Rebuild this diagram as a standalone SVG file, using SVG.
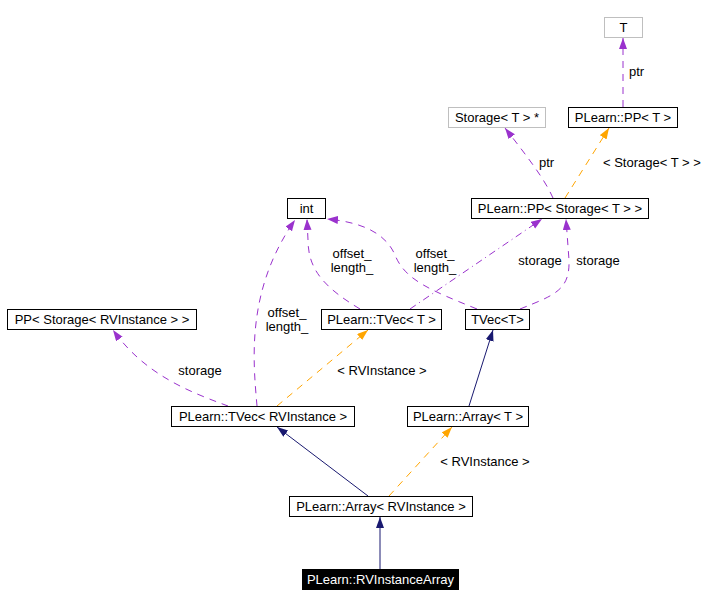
<svg xmlns="http://www.w3.org/2000/svg" width="712" height="606" viewBox="0 0 712 606">
<style>
text{font-family:"Liberation Sans",Arial,sans-serif;font-size:13px;fill:#000}
.n{text-anchor:middle}
.box{fill:#fff;stroke:#000;stroke-width:1}
.gbox{fill:#fff;stroke:#bfbfbf;stroke-width:1}
.e{fill:none;stroke-width:1}
.p{stroke:#9a32cd;stroke-dasharray:7,6}
.pd{stroke:#9a32cd;stroke-dasharray:7,4,1,4}
.o{stroke:#ffa500;stroke-dasharray:7,6}
.b{stroke:#191970}
</style>
<defs>
<marker id="ap" markerUnits="userSpaceOnUse" markerWidth="12" markerHeight="10" refX="11" refY="4" orient="auto"><path d="M0,0 L11,4 L0,8 z" fill="#9a32cd"/></marker>
<marker id="ao" markerUnits="userSpaceOnUse" markerWidth="12" markerHeight="10" refX="11" refY="4" orient="auto"><path d="M0,0 L11,4 L0,8 z" fill="#ffa500"/></marker>
<marker id="ab" markerUnits="userSpaceOnUse" markerWidth="12" markerHeight="10" refX="11" refY="4" orient="auto"><path d="M0,0 L11,4 L0,8 z" fill="#191970"/></marker>
</defs>
<rect width="712" height="606" fill="#fff"/>
<g id="edges">
<path class="e p" d="M623,107 L623,38" marker-end="url(#ap)"/>
<text x="629" y="76">ptr</text>
<path class="e p" d="M553,198 C545,180 530,160 505,128" marker-end="url(#ap)"/>
<text x="539" y="167">ptr</text>
<path class="e o" d="M565,198 L609,128" marker-end="url(#ao)"/>
<text x="603" y="167">&lt; Storage&lt; T &gt; &gt;</text>
<path class="e p" d="M257,406 C253,360 246,290 295,220" marker-end="url(#ap)"/>
<text class="n" x="287" y="317">offset_</text>
<text class="n" x="287" y="331">length_</text>
<path class="e p" d="M360,309 C325,288 308,270 308,240 L307,219" marker-end="url(#ap)"/>
<text class="n" x="352" y="258">offset_</text>
<text class="n" x="352" y="272">length_</text>
<path class="e p" d="M477,309 C430,290 405,280 395,255 C385,232 360,222 327,219" marker-end="url(#ap)"/>
<text class="n" x="435" y="258">offset_</text>
<text class="n" x="435" y="272">length_</text>
<path class="e pd" d="M410,309 L542,219" marker-end="url(#ap)"/>
<text class="n" x="540" y="265">storage</text>
<path class="e p" d="M520,309 C555,295 570,290 569,260 L566,219" marker-end="url(#ap)"/>
<text class="n" x="598" y="265">storage</text>
<path class="e p" d="M228,406 C190,392 145,375 113,330" marker-end="url(#ap)"/>
<text class="n" x="200" y="375">storage</text>
<path class="e o" d="M277,406 L368,330" marker-end="url(#ao)"/>
<text class="n" x="382" y="375">&lt; RVInstance &gt;</text>
<path class="e b" d="M469,406 L493,330" marker-end="url(#ab)"/>
<path class="e b" d="M368,496 L277,427" marker-end="url(#ab)"/>
<path class="e o" d="M389,496 L452,427" marker-end="url(#ao)"/>
<text class="n" x="485" y="466">&lt; RVInstance &gt;</text>
<path class="e b" d="M380,569 L380,517" marker-end="url(#ab)"/>
</g>
<g id="node-T"><rect class="gbox" x="604.5" y="17.5" width="38" height="20"/><text class="n" x="623.5" y="32">T</text></g>
<g id="node-PP-T"><rect class="box" x="568.5" y="107.5" width="109" height="20"/><text class="n" x="623" y="122">PLearn::PP&lt; T &gt;</text></g>
<g id="node-StoragePtr"><rect class="gbox" x="448.5" y="107.5" width="97" height="20"/><text class="n" x="497" y="122">Storage&lt; T &gt; *</text></g>
<g id="node-PP-Storage"><rect class="box" x="471.5" y="198.5" width="177" height="20"/><text class="n" x="560" y="213">PLearn::PP&lt; Storage&lt; T &gt; &gt;</text></g>
<g id="node-int"><rect class="box" x="287.5" y="198.5" width="38" height="20"/><text class="n" x="306.5" y="213">int</text></g>
<g id="node-TVec-T"><rect class="box" x="321.5" y="309.5" width="120" height="20"/><text class="n" x="381.5" y="324">PLearn::TVec&lt; T &gt;</text></g>
<g id="node-TVecT"><rect class="box" x="465.5" y="309.5" width="64" height="20"/><text class="n" x="497.5" y="324">TVec&lt;T&gt;</text></g>
<g id="node-PP-RV"><rect class="box" x="7.5" y="309.5" width="189" height="20"/><text class="n" x="102" y="324">PP&lt; Storage&lt; RVInstance &gt; &gt;</text></g>
<g id="node-TVec-RV"><rect class="box" x="171.5" y="406.5" width="183" height="20"/><text class="n" x="263" y="421">PLearn::TVec&lt; RVInstance &gt;</text></g>
<g id="node-Array-T"><rect class="box" x="407.5" y="406.5" width="121" height="20"/><text class="n" x="468" y="421">PLearn::Array&lt; T &gt;</text></g>
<g id="node-Array-RV"><rect class="box" x="289.5" y="496.5" width="183" height="20"/><text class="n" x="381" y="511">PLearn::Array&lt; RVInstance &gt;</text></g>
<g id="node-RVInstanceArray"><rect x="302" y="569" width="157" height="21" fill="#000"/><text class="n" x="380.5" y="584" style="fill:#fff">PLearn::RVInstanceArray</text></g>
</svg>
